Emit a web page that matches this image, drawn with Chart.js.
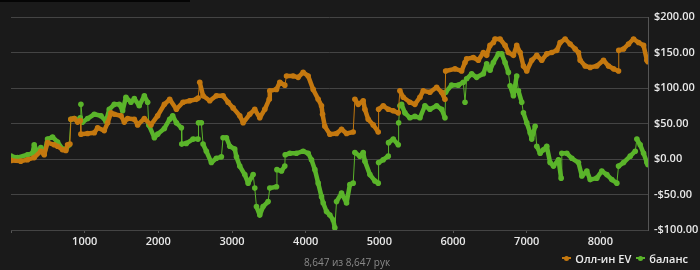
<!DOCTYPE html>
<html>
<head>
<meta charset="utf-8">
<script src="https://cdn.jsdelivr.net/npm/chart.js@4.4.1/dist/chart.umd.min.js"></script>
<style>
  body { margin: 0; background: #1a1a1a; }
  #wrap { position: relative; width: 700px; height: 270px; background: #1a1a1a; overflow: hidden; }
  #topbar { position: absolute; left: 0; top: 0; width: 190px; height: 2px; background: #050505; }
  #legend { position: absolute; right: 12px; top: 250px; font: 600 11px 'Open Sans', sans-serif; color: #ececec; white-space: nowrap; }
  #legend .item { display: inline-flex; align-items: center; margin-left: 5px; }
  #legend .mk { position: relative; display: inline-block; width: 9px; height: 8px; margin-right: 4px; }
  #legend .mk i { position: absolute; left: 0; top: 3px; width: 9px; height: 2px; }
  #legend .mk b { position: absolute; left: 2px; top: 1.5px; width: 5px; height: 5px; border-radius: 50%; }
  #footer { position: absolute; left: 0; width: 694px; top: 255px; text-align: center; font: 10px 'Open Sans', sans-serif; color: #8a8a8a; }
</style>
</head>
<body>
<div id="wrap">
  <div id="topbar"></div>
  <canvas id="chart" width="700" height="270"></canvas>
  <div id="legend"></div>
  <div id="footer">8,647 из 8,647 рук</div>
</div>
<script>
// hands / values
const EV_HANDS = [0, 133, 224, 315, 405, 451, 496, 587, 632, 700, 745, 768, 800, 813, 859, 904, 940, 949, 1040, 1131,
  1176, 1266, 1312, 1357, 1402, 1493, 1538, 1583, 1674, 1719, 1810, 1900, 1991, 2082, 2154, 2245, 2335, 2426, 2516, 2540,
  2562, 2607, 2698, 2788, 2879, 2947, 3015, 3105, 3151, 3241, 3309, 3377, 3445, 3505, 3513, 3604, 3649, 3717, 3740, 3830,
  3898, 3966, 4034, 4102, 4170, 4215, 4229, 4260, 4328, 4419, 4487, 4555, 4645, 4668, 4713, 4781, 4804, 4849, 4917, 4985,
  4990, 5053, 5121, 5189, 5257, 5279, 5325, 5415, 5483, 5551, 5596, 5687, 5778, 5846, 5891, 5900, 6027, 6117, 6163, 6185,
  6276, 6344, 6412, 6457, 6502, 6548, 6570, 6639, 6707, 6752, 6820, 6865, 6911, 6956, 7001, 7069, 7137, 7205, 7273, 7341,
  7409, 7454, 7522, 7590, 7658, 7703, 7726, 7794, 7862, 7952, 8043, 8111, 8179, 8247, 8250, 8315, 8383, 8451, 8519, 8587,
  8632, 8647];
const EV_VALUES = [-2, -3, -1, 2, 11, 6, 23, 20, 18, 13, 12, 20, 21, 56, 57, 52, 54, 35, 36, 37,
  44, 40, 51, 65, 63, 61, 52, 57, 56, 48, 57, 48, 61, 77, 84, 70, 80, 82, 84, 86,
  108, 89, 82, 89, 89, 80, 72, 61, 51, 63, 70, 58, 70, 84, 96, 98, 108, 104, 117, 117,
  115, 122, 117, 98, 84, 75, 63, 46, 35, 36, 42, 36, 38, 84, 77, 82, 70, 56, 48, 38,
  70, 75, 70, 68, 65, 96, 87, 80, 77, 87, 96, 94, 101, 94, 84, 124, 127, 124, 136, 141,
  143, 139, 150, 146, 160, 164, 169, 169, 160, 150, 146, 160, 150, 131, 124, 139, 146, 139, 148, 150,
  153, 164, 169, 162, 155, 150, 139, 131, 129, 131, 139, 131, 127, 124, 153, 155, 162, 169, 164, 160,
  139, 137];

const BAL_HANDS = [0, 88, 224, 292, 315, 360, 405, 451, 496, 564, 632, 700, 745, 790, 813, 859, 904, 940, 949, 972,
  1040, 1131, 1221, 1289, 1334, 1402, 1470, 1515, 1560, 1628, 1674, 1741, 1810, 1855, 1870, 1946, 1991, 2082, 2154, 2195,
  2245, 2313, 2318, 2380, 2471, 2539, 2545, 2584, 2607, 2652, 2720, 2788, 2856, 2879, 2924, 2970, 3037, 3060, 3105, 3173,
  3219, 3287, 3309, 3332, 3377, 3422, 3490, 3513, 3604, 3610, 3672, 3717, 3722, 3785, 3875, 3966, 4034, 4079, 4125, 4170,
  4215, 4238, 4283, 4328, 4374, 4396, 4419, 4487, 4555, 4600, 4645, 4668, 4736, 4781, 4804, 4872, 4940, 4985, 4990, 5053,
  5121, 5125, 5189, 5257, 5262, 5279, 5302, 5347, 5415, 5483, 5551, 5619, 5687, 5778, 5846, 5891, 5900, 5981, 6072, 6140,
  6163, 6185, 6253, 6321, 6412, 6457, 6503, 6548, 6616, 6661, 6707, 6752, 6775, 6820, 6865, 6888, 6933, 6956, 7001, 7047,
  7069, 7115, 7137, 7183, 7228, 7273, 7318, 7364, 7432, 7468, 7477, 7545, 7613, 7703, 7749, 7817, 7862, 7952, 8020, 8088,
  8156, 8224, 8247, 8315, 8406, 8474, 8496, 8541, 8587, 8632, 8647];
const BAL_VALUES = [4, 2, 6, 8, 20, 9, 16, 7, 28, 31, 24, 14, 14, 20, 56, 57, 54, 58, 77, 52,
  57, 63, 61, 53, 70, 77, 77, 68, 87, 80, 85, 75, 89, 80, 48, 30, 35, 43, 56, 61,
  51, 44, 21, 22, 28, 28, 51, 51, 21, 11, -5, 1, 3, 30, 30, 18, 14, 3, -10, -22,
  -34, -22, -41, -67, -79, -67, -60, -41, -39, -15, -17, -10, 6, 8, 8, 11, 8, -1, -15, -34,
  -53, -62, -74, -79, -86, -97, -60, -48, -62, -36, -34, 9, 4, 9, -3, -22, -31, -34, -5, -1,
  4, 23, 28, 20, 51, 75, 77, 65, 58, 60, 58, 75, 70, 75, 70, 58, 94, 104, 104, 108,
  80, 113, 120, 115, 120, 134, 125, 136, 148, 148, 136, 122, 103, 89, 117, 96, 80, 65, 51, 37,
  28, 46, 18, 8, 13, 18, -5, -10, -1, -27, 8, 8, 1, -5, -24, -17, -29, -27, -17, -22,
  -29, -34, -10, -5, 4, 11, 28, 20, 8, -5, -8];

const X_TICKS = [0, 1000, 2000, 3000, 4000, 5000, 6000, 7000, 8000];
const Y_TICKS = [-100, -50, 0, 50, 100, 150, 200];
const TOTAL_HANDS = 8647;

const ORANGE = '#c4780f';
const GREEN  = '#5ab42a';
const GRID   = '#444444';
const TEXT   = '#e8e8e8';

function pairs(xs, ys) {
  return xs.map((x, i) => ({ x: x, y: ys[i] }));
}

function money(v) {
  return (v < 0 ? '-$' : '$') + Math.abs(v).toFixed(2);
}

// near-vertical jumps (one big pot) are thin connectors, the rest is the thick trace
function jumpWidth(ctx) {
  const dx = ctx.p1.parsed.x - ctx.p0.parsed.x;
  const dy = Math.abs(ctx.p1.parsed.y - ctx.p0.parsed.y);
  return dx <= 25 && dy > 12 ? 1 : 4.5;
}

const series = [
  { label: 'Олл-ин EV', hands: EV_HANDS, values: EV_VALUES, color: ORANGE },
  { label: 'баланс', hands: BAL_HANDS, values: BAL_VALUES, color: GREEN },
];

new Chart(document.getElementById('chart'), {
  type: 'line',
  data: {
    datasets: series.map(s => ({
      label: s.label,
      data: pairs(s.hands, s.values),
      borderColor: s.color,
      backgroundColor: s.color,
      borderWidth: 4.5,
      borderJoinStyle: 'round',
      borderCapStyle: 'round',
      pointRadius: 2.8,
      pointBorderWidth: 0,
      tension: 0,
      segment: { borderWidth: jumpWidth },
    })),
  },
  options: {
    responsive: false,
    animation: false,
    layout: { padding: { left: 11, top: 17, right: 0, bottom: 0 } },
    plugins: { legend: { display: false }, tooltip: { enabled: false } },
    scales: {
      x: {
        type: 'linear',
        min: 0,
        max: TOTAL_HANDS,
        afterBuildTicks: (scale) => { scale.ticks = X_TICKS.map(v => ({ value: v })); },
        afterFit: (scale) => { scale.height = 40; },
        grid: { drawOnChartArea: false, color: '#555', tickLength: 3 },
        border: { color: GRID },
        ticks: {
          color: TEXT,
          padding: 2,
          maxRotation: 0,
          font: { family: "'Open Sans', sans-serif", size: 11, weight: '600' },
          callback: (v) => (v === 0 ? '' : v),
        },
      },
      y: {
        position: 'right',
        min: -100,
        max: 200,
        afterBuildTicks: (scale) => { scale.ticks = Y_TICKS.map(v => ({ value: v })); },
        afterFit: (scale) => { scale.width = 52; },
        grid: { color: GRID, drawTicks: false },
        border: { color: '#555' },
        ticks: {
          color: TEXT,
          padding: 6,
          font: { family: "'Open Sans', sans-serif", size: 11, weight: '600' },
          callback: money,
        },
      },
    },
  },
});

// html legend, bottom right
const legend = document.getElementById('legend');
series.forEach(s => {
  const item = document.createElement('span');
  item.className = 'item';
  item.innerHTML = '<span class="mk"><i style="background:' + s.color + '"></i><b style="background:' + s.color + '"></b></span>' + s.label;
  legend.appendChild(item);
});
</script>
</body>
</html>
